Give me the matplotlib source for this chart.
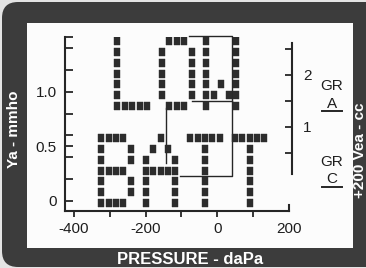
import matplotlib
matplotlib.use("Agg")
import matplotlib.pyplot as plt
from matplotlib.patches import FancyBboxPatch, Rectangle
from matplotlib.lines import Line2D

plt.rcParams['font.family'] = ['Liberation Sans', 'DejaVu Sans']

# ---------------- data ----------------
x_major = [-400, -200, 0, 200]
x_major_labels = ['-400', '-200', '0', '200']
x_minor = [-300, -100, 100]
y_ticks = [0, 0.2, 0.4, 0.5, 0.6, 0.8, 1.0, 1.2, 1.4, 1.5]
y_tick_labels = ['0', '', '', '0.5', '', '', '1.0', '', '', '']
vea_ticks = [0.5, 1, 1.5, 2, 2.5]
vea_tick_labels = ['', '1', '', '2', '']

# dot-matrix glyphs of the "LOW BATT" message (5x7 cells)
glyph_L = ["#....", "#....", "#....", "#....", "#....", "#....", "#####"]
glyph_O = [".###.", "#...#", "#...#", "#...#", "#...#", "#...#", ".###."]
glyph_W = ["#...#", "#...#", "#...#", "#...#", "#.#.#", "##.##", "#...#"]
glyph_B = ["####.", "#...#", "#...#", "####.", "#...#", "#...#", "####."]
glyph_A = ["..#..", ".#.#.", "#...#", "#####", "#...#", "#...#", "#...#"]
glyph_T = ["#####", "..#..", "..#..", "..#..", "..#..", "..#..", "..#.."]
word_low = [glyph_L, glyph_O, glyph_W]
word_batt = [glyph_B, glyph_A, glyph_T, glyph_T]
low_origin = (-279, 1.46)     # centre of top-left dot (daPa, mmho)
batt_origin = (-324, 0.572)

# trace segments (daPa, mmho)
trace_x = [[-78, 41.7, 41.7, -102.8], [-144.5, -144.5], [-72, 41.7]]
trace_y = [[1.505, 1.505, 0.229, 0.229], [0.853, 0.349], [0.917, 0.917]]

INK = '#262626'
DOT_DX = 20.7
DOT_DY = 0.098

# ---------------- figure ----------------
W, H = 366, 268
fig = plt.figure(figsize=(W / 100, H / 100), dpi=100, facecolor='#e4e4e4')

def px(x, y):
    return x / W, 1 - y / H

frame = FancyBboxPatch((0.02, 0.01), 3.9, 2.65,
                       boxstyle="round,pad=0,rounding_size=0.16",
                       transform=fig.dpi_scale_trans, facecolor='#3c3c3c',
                       edgecolor='none', zorder=-3)
fig.patches.append(frame)
panel = Rectangle((27 / W, 1 - 248 / H), (353 - 27) / W, (248 - 23) / H,
                  transform=fig.transFigure, facecolor='#fcfcfc',
                  edgecolor='none', zorder=-2)
fig.patches.append(panel)

ax = fig.add_axes([65 / W, 1 - 211 / H, (289 - 65) / W, (211 - 37) / H])
ax.set_facecolor('none')
ax.set_xlim(-425, 200)
ax.set_ylim(-0.092, 1.5)
ax.spines['top'].set_visible(False)
for s in ['left', 'bottom', 'right']:
    ax.spines[s].set_linewidth(1.5)
    ax.spines[s].set_color(INK)
ax.spines['right'].set_bounds(-0.092, -0.04)

ax.set_xticks(x_major)
ax.set_xticklabels(x_major_labels)
ax.set_xticks(x_minor, minor=True)
ax.tick_params(axis='x', which='both', direction='out', length=4, width=1.3,
               color=INK, labelsize=11, labelcolor='#1e1e1e', pad=4)
ax.xaxis.get_major_ticks()[-1].tick1line.set_visible(False)
ax.set_yticks(y_ticks)
ax.set_yticklabels(y_tick_labels)
ax.tick_params(axis='y', direction='in', length=5.5, width=1.3, color=INK,
               labelsize=11, labelcolor='#1e1e1e', pad=6)

# dots
rect_marker = [(-0.32, -0.5), (0.32, -0.5), (0.32, 0.5), (-0.32, 0.5), (-0.32, -0.5)]

def glyph_points(word, origin):
    xs, ys = [], []
    for gi, g in enumerate(word):
        for r, row in enumerate(g):
            for c, ch in enumerate(row):
                if ch == '#':
                    xs.append(origin[0] + (gi * 6 + c) * DOT_DX)
                    ys.append(origin[1] - r * DOT_DY)
    return xs, ys

for word, origin in [(word_low, low_origin), (word_batt, batt_origin)]:
    xs, ys = glyph_points(word, origin)
    ax.plot(xs, ys, ls='none', marker=rect_marker, ms=6.2, mfc='#2c2c2c',
            mec='#2c2c2c', mew=0.3, zorder=3)

for tx, ty in zip(trace_x, trace_y):
    ax.plot(tx, ty, color=INK, lw=1.0, zorder=2, clip_on=False)

# right (Vea) axis
ax2 = fig.add_axes([292 / W, 1 - 174 / H, 0.0005, (174 - 43) / H])
ax2.set_facecolor('none')
ax2.set_ylim(0.096, 2.615)
for s in ['top', 'bottom', 'right']:
    ax2.spines[s].set_visible(False)
ax2.spines['left'].set_linewidth(1.5)
ax2.spines['left'].set_color(INK)
ax2.set_xticks([])
ax2.set_yticks(vea_ticks)
ax2.set_yticklabels(vea_tick_labels)
ax2.tick_params(axis='y', left=True, right=False, labelleft=False, labelright=True,
                direction='out', length=5, width=1.3, color=INK, labelsize=11,
                labelcolor='#1e1e1e', pad=3)

# group labels
for txt, (x, y) in [('GR', (332, 86)), ('A', (332, 104)), ('GR', (332, 162)), ('C', (332, 179))]:
    fig.text(*px(x, y), txt, ha='center', va='center', fontsize=11, color='#1e1e1e')
for y in [111, 187]:
    fig.add_artist(Line2D([322 / W, 342 / W], [1 - y / H, 1 - y / H], color=INK, lw=1.4))

# frame titles
fig.text(*px(14, 129), 'Ya - mmho', rotation=90, ha='center', va='center',
         fontsize=11, fontweight='bold', color='white')
fig.text(*px(190, 260), 'PRESSURE - daPa', ha='center', va='center',
         fontsize=12, fontweight='bold', color='white')
fig.text(*px(360, 150), '+200 Vea - cc', rotation=90, ha='center', va='center',
         fontsize=11, fontweight='bold', color='white')

fig.savefig('out.png', dpi=100, facecolor=fig.get_facecolor())
